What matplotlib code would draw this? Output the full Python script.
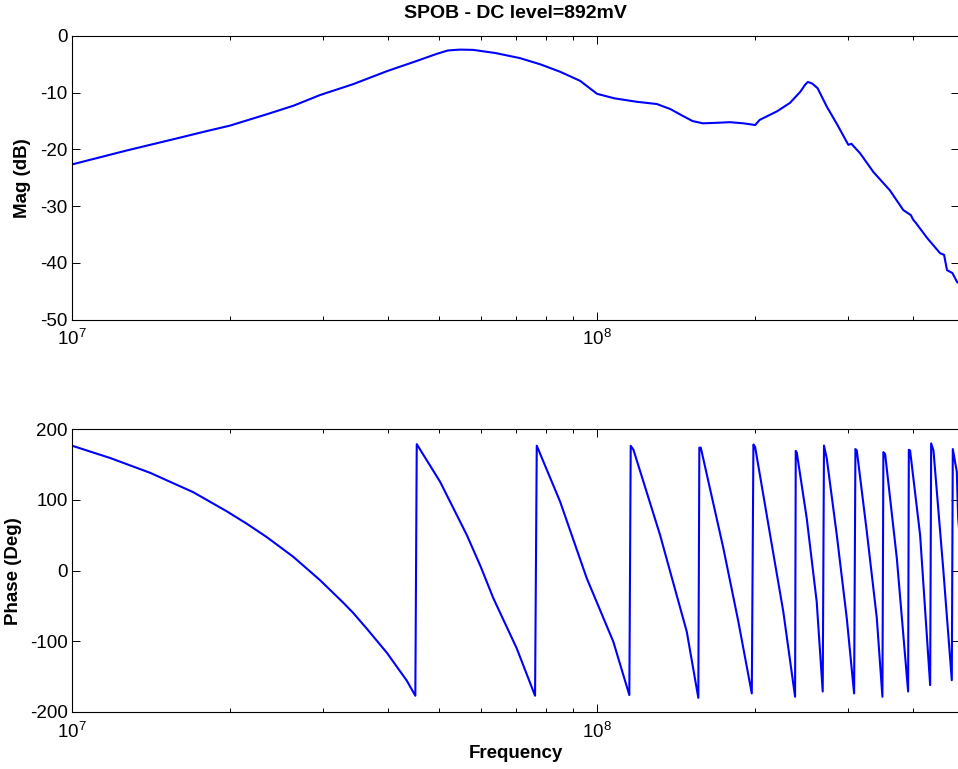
import matplotlib
matplotlib.use("Agg")
import matplotlib.pyplot as plt
from matplotlib.ticker import LogLocator, FixedLocator, NullFormatter

plt.rcParams['font.family'] = ['Liberation Sans', 'DejaVu Sans']
plt.rcParams['mathtext.default'] = 'regular'
plt.rcParams['axes.unicode_minus'] = False

# ---- Magnitude data (frequency in Hz, magnitude in dB) ----
mag_freq = [1.00e7, 1.13e7, 1.27e7, 1.43e7, 1.61e7, 1.80e7, 2.00e7, 2.35e7, 2.64e7, 2.97e7,
            3.43e7, 3.98e7, 4.47e7, 4.97e7, 5.20e7, 5.48e7, 5.81e7, 6.40e7, 7.13e7, 7.80e7,
            8.50e7, 9.28e7, 1.00e8, 1.08e8, 1.19e8, 1.30e8, 1.38e8, 1.45e8, 1.52e8, 1.59e8,
            1.70e8, 1.79e8, 1.90e8, 2.00e8, 2.04e8, 2.20e8, 2.33e8, 2.44e8, 2.49e8, 2.52e8,
            2.57e8, 2.63e8, 2.74e8, 2.87e8, 3.01e8, 3.05e8, 3.17e8, 3.36e8, 3.61e8, 3.83e8,
            3.96e8, 4.00e8, 4.05e8, 4.25e8, 4.50e8, 4.58e8, 4.64e8, 4.75e8, 4.85e8, 4.89e8]
mag_db = [-22.65, -21.4, -20.2, -19.05, -17.9, -16.8, -15.8, -13.8, -12.3, -10.4,
          -8.5, -6.2, -4.6, -3.1, -2.55, -2.4, -2.45, -3.0, -3.9, -5.0,
          -6.3, -7.9, -10.2, -11.0, -11.6, -12.0, -12.9, -14.0, -15.0, -15.4,
          -15.3, -15.2, -15.4, -15.7, -14.8, -13.3, -11.8, -9.8, -8.6, -8.1,
          -8.4, -9.2, -12.5, -15.7, -19.2, -19.0, -20.7, -24.0, -27.2, -30.7,
          -31.6, -32.4, -33.0, -35.6, -38.3, -38.6, -41.3, -41.8, -43.4, -43.6]

# ---- Phase data (frequency in Hz, phase in degrees) ----
phase_freq = [1.000e7, 1.181e7, 1.408e7, 1.702e7, 1.971e7, 2.151e7, 2.349e7, 2.640e7,
              2.968e7, 3.287e7, 3.429e7, 3.642e7, 3.976e7, 4.340e7, 4.507e7,
              4.535e7, 5.022e7, 5.647e7, 6.000e7, 6.345e7, 7.031e7, 7.619e7,
              7.676e7, 8.503e7, 9.558e7, 1.074e8, 1.152e8,
              1.159e8, 1.173e8, 1.318e8, 1.482e8, 1.559e8,
              1.566e8, 1.576e8, 1.740e8, 1.858e8, 1.971e8,
              1.985e8, 2.000e8, 2.136e8, 2.263e8, 2.383e8,
              2.390e8, 2.401e8, 2.508e8, 2.620e8, 2.690e8,
              2.705e8, 2.738e8, 2.861e8, 2.989e8, 3.087e8,
              3.105e8, 3.124e8, 3.264e8, 3.410e8, 3.495e8,
              3.510e8, 3.537e8, 3.723e8, 3.912e8,
              3.924e8, 3.946e8, 4.123e8, 4.309e8,
              4.328e8, 4.372e8, 4.567e8, 4.738e8,
              4.759e8, 4.843e8, 4.871e8, 4.89e8]
phase_deg = [176.8, 159.5, 138.5, 111.0, 84.0, 66.5, 47.5, 19.5,
             -13.5, -45.5, -59.5, -82.0, -116.0, -155.5, -177.0,
             179.0, 126.0, 50.6, 6.0, -39.0, -110.0, -177.0,
             176.8, 97.7, -10.8, -100.6, -176.0,
             176.6, 171.0, 50.6, -86.4, -180.0,
             174.0, 174.0, 31.7, -72.0, -173.7,
             178.5, 175.0, 50.6, -58.0, -178.5,
             169.5, 167.0, 74.0, -44.0, -171.0,
             177.0, 159.0, 50.6, -67.0, -173.7,
             172.0, 170.0, 55.0, -67.0, -178.5,
             167.7, 165.0, 17.5, -171.0,
             171.0, 170.0, 50.6, -162.0,
             180.0, 170.0, -1.0, -155.0,
             172.0, 140.0, 76.0, 60.0]

xlim = (1e7, 4.89e8)
mag_ticks = [-50, -40, -30, -20, -10, 0]
phase_ticks = [-200, -100, 0, 100, 200]
title_text = 'SPOB - DC level=892mV'

fig = plt.figure(figsize=(9.58, 7.69), dpi=100)
W, H = 958.0, 769.0
left = 72 / W
width = 887 / W
ax1 = fig.add_axes([left, 1 - 319.5 / H, width, (319.5 - 36) / H])
ax2 = fig.add_axes([left, 1 - 712 / H, width, (712 - 429.3) / H])

line_kw = dict(color='#0000ff', linewidth=1.5)
ax1.plot(mag_freq, mag_db, **line_kw)
ax2.plot(phase_freq, phase_deg, **line_kw)

for ax, yt in ((ax1, mag_ticks), (ax2, phase_ticks)):
    ax.set_xscale('log')
    ax.set_xlim(*xlim)
    ax.set_ylim(yt[0], yt[-1])
    ax.set_yticks(yt)
    ax.xaxis.set_major_locator(FixedLocator([1e7, 1e8]))
    ax.xaxis.set_minor_locator(LogLocator(base=10, subs=range(2, 10)))
    ax.xaxis.set_minor_formatter(NullFormatter())
    ax.set_xticklabels([r'$10^{7}$', r'$10^{8}$'])
    ax.tick_params(which='both', direction='in', top=True, right=True, labelsize=13.5,
                   width=0.7, colors='black')
    ax.tick_params(which='major', length=6)
    ax.tick_params(axis='y', which='major', pad=3)
    ax.tick_params(axis='x', which='major', pad=7)
    ax.tick_params(which='minor', length=3)
    for s in ax.spines.values():
        s.set_linewidth(0.8)

ax1.set_title(title_text, fontsize=14, fontweight='bold', pad=13)
ax1.set_ylabel('Mag (dB)', fontsize=13.5, fontweight='bold')
ax1.yaxis.set_label_coords(-0.046, 0.5)
ax2.set_ylabel('Phase (Deg)', fontsize=13.5, fontweight='bold')
ax2.yaxis.set_label_coords(-0.056, 0.5)
ax2.set_xlabel('Frequency', fontsize=13.5, fontweight='bold', labelpad=2)

fig.savefig('out.png', dpi=100)
